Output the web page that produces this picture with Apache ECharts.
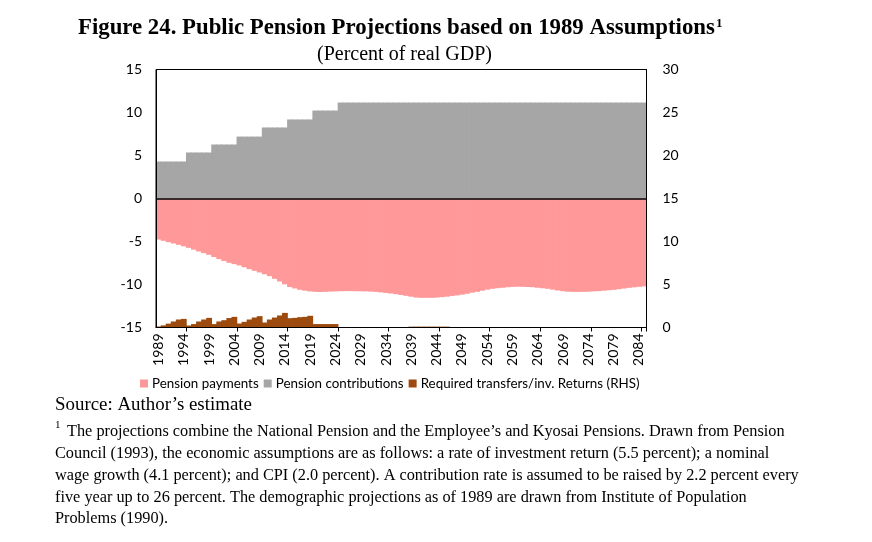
<!DOCTYPE html>
<html>
<head>
<meta charset="utf-8">
<script src="https://cdn.jsdelivr.net/npm/echarts@6/dist/echarts.min.js"></script>
<style>
  html, body { margin: 0; padding: 0; background: #fff; }
  #chart { width: 872px; height: 542px; }
</style>
</head>
<body>
<div id="chart"></div>
<script>
// years 1989 - 2085
var years = [];
for (var y = 1989; y <= 2085; y++) years.push(String(y));

// Pension payments (% of real GDP, LHS)
var payments = [
  -4.77, -4.92, -5.08, -5.23, -5.39, -5.56, -5.74, -5.95, -6.16, -6.35,
  -6.55, -6.80, -7.05, -7.27, -7.48, -7.63, -7.79, -8.00, -8.22, -8.41,
  -8.60, -8.81, -9.03, -9.34, -9.65, -9.98, -10.30, -10.46, -10.62, -10.72,
  -10.81, -10.85, -10.87, -10.85, -10.82, -10.80, -10.78, -10.77, -10.77, -10.78,
  -10.79, -10.80, -10.82, -10.86, -10.92, -10.98, -11.05, -11.12, -11.22, -11.32,
  -11.42, -11.52, -11.55, -11.55, -11.55, -11.52, -11.47, -11.42, -11.33, -11.27,
  -11.18, -11.08, -10.95, -10.85, -10.72, -10.60, -10.50, -10.43, -10.38, -10.32,
  -10.28, -10.26, -10.27, -10.29, -10.32, -10.38, -10.44, -10.50, -10.60, -10.70,
  -10.78, -10.84, -10.86, -10.86, -10.85, -10.83, -10.80, -10.77, -10.72, -10.67,
  -10.62, -10.55, -10.47, -10.39, -10.33, -10.27, -10.22
];

// Pension contributions (% of real GDP, LHS)
var contributions = [
  4.3, 4.3, 4.3, 4.3, 4.3, 4.3,
  5.35, 5.35, 5.35, 5.35, 5.35,
  6.28, 6.28, 6.28, 6.28, 6.28,
  7.2, 7.2, 7.2, 7.2, 7.2,
  8.26, 8.26, 8.26, 8.26, 8.26,
  9.19, 9.19, 9.19, 9.19, 9.19,
  10.23, 10.23, 10.23, 10.23, 10.23,
  11.16, 11.16, 11.16, 11.16, 11.16, 11.16, 11.16, 11.16, 11.16, 11.16,
  11.16, 11.16, 11.16, 11.16, 11.16, 11.16, 11.16, 11.16, 11.16, 11.16,
  11.16, 11.16, 11.16, 11.16, 11.16, 11.16, 11.16, 11.16, 11.16, 11.16,
  11.16, 11.16, 11.16, 11.16, 11.16, 11.16, 11.16, 11.16, 11.16, 11.16,
  11.16, 11.16, 11.16, 11.16, 11.16, 11.16, 11.16, 11.16, 11.16, 11.16,
  11.16, 11.16, 11.16, 11.16, 11.16, 11.16, 11.16, 11.16, 11.16, 11.16,
  11.16
];

// Required transfers / inv. returns (RHS)
var transfers = [
  0.12, 0.25, 0.45, 0.70, 0.93, 1.00,
  0.23, 0.40, 0.70, 0.93, 1.12,
  0.40, 0.70, 0.85, 1.10, 1.24,
  0.46, 0.66, 0.93, 1.16, 1.32,
  0.58, 0.93, 1.16, 1.40, 1.70,
  1.08, 1.12, 1.20, 1.24, 1.36,
  0.40, 0.40, 0.40, 0.40, 0.40,
  0, 0, 0, 0, 0, 0, 0, 0, 0, 0, 0, 0, 0, 0,
  0.1, 0.1, 0.1, 0.1, 0.1, 0.1, 0.1, 0.1,
  0, 0, 0, 0, 0, 0, 0, 0, 0, 0,
  0, 0, 0, 0, 0, 0, 0, 0, 0, 0,
  0, 0, 0, 0, 0, 0, 0, 0, 0, 0,
  0, 0, 0, 0, 0, 0, 0, 0, 0
];

var leftTicks = { min: -15, max: 15, interval: 5 };
var rightTicks = { min: 0, max: 30, interval: 5 };

var footnote = [
  'The projections combine the National Pension and the Employee\u2019s and Kyosai Pensions. Drawn from Pension',
  'Council (1993), the economic assumptions are as follows: a rate of investment return (5.5 percent); a nominal',
  'wage growth (4.1 percent); and CPI (2.0 percent). A contribution rate is assumed to be raised by 2.2 percent every',
  'five year up to 26 percent. The demographic projections as of 1989 are drawn from Institute of Population',
  'Problems (1990).'
];

var serif = '"Liberation Serif", "Times New Roman", serif';
var sans = 'Lato, "Open Sans", sans-serif';

var graphics = [
  {
    type: 'text', left: 55, top: 396,
    style: { text: 'Source: Author\u2019s estimate', font: '18.9px ' + serif, fill: '#000' }
  },
  {
    type: 'text', left: 55, top: 420,
    style: { text: '1', font: '11px ' + serif, fill: '#000' }
  }
];
footnote.forEach(function (line, i) {
  graphics.push({
    type: 'text', left: i === 0 ? 67 : 55, top: 424 + i * 21.8,
    style: { text: line, font: '16.3px ' + serif, fill: '#000' }
  });
});

var chart = echarts.init(document.getElementById('chart'));
chart.setOption({
  animation: false,
  backgroundColor: '#fff',
  title: [{
    text: '{m|Figure 24. Public Pension Projections based on 1989 Assumptions}{s|1}',
    left: 73,
    top: 12,
    textStyle: {
      rich: {
        m: { fontFamily: serif, fontWeight: 'bold', fontSize: 22.8, color: '#000', verticalAlign: 'bottom' },
        s: { fontFamily: serif, fontWeight: 'bold', fontSize: 13, color: '#000', verticalAlign: 'top', padding: [0, 0, 8, 1] }
      }
    }
  }, {
    text: '(Percent of real GDP)',
    left: 312,
    top: 40,
    textStyle: { fontFamily: serif, fontWeight: 'normal', fontSize: 20, color: '#000' }
  }],
  legend: {
    left: 135,
    top: 372,
    itemWidth: 8,
    itemHeight: 8,
    itemGap: 5,
    icon: 'rect',
    textStyle: { fontFamily: sans, fontSize: 13.4, color: '#000', padding: [0, 0, 0, -1] },
    data: ['Pension payments', 'Pension contributions', 'Required transfers/inv. Returns (RHS)']
  },
  grid: {
    left: 156, top: 69.5, right: 225.5, bottom: 214.5,
    show: true, borderColor: '#000', borderWidth: 1, backgroundColor: 'transparent'
  },
  xAxis: {
    type: 'category',
    data: years,
    z: 10,
    axisLine: { onZero: false, lineStyle: { color: '#000', width: 1 } },
    axisTick: {
      show: true, length: 4, lineStyle: { color: '#000' },
      interval: function (i) { return i % 10 === 6; }
    },
    axisLabel: {
      interval: 4, rotate: 90, margin: 6,
      fontFamily: sans, fontSize: 14, color: '#000'
    }
  },
  yAxis: [{
    type: 'value',
    min: leftTicks.min, max: leftTicks.max, interval: leftTicks.interval,
    z: 10,
    axisLine: { show: true, lineStyle: { color: '#000', width: 1 } },
    axisTick: { show: false },
    splitLine: { show: false },
    axisLabel: { margin: 14, fontFamily: sans, fontSize: 14, color: '#000' }
  }, {
    type: 'value',
    position: 'right',
    min: rightTicks.min, max: rightTicks.max, interval: rightTicks.interval,
    z: 10,
    axisLine: { show: true, lineStyle: { color: '#000', width: 1 } },
    axisTick: { show: false },
    splitLine: { show: false },
    axisLabel: { margin: 16, fontFamily: sans, fontSize: 14, color: '#000' }
  }],
  series: [{
    name: 'Pension payments',
    type: 'bar',
    yAxisIndex: 0,
    data: payments,
    barGap: '-100%',
    barWidth: 5.8,
    itemStyle: { color: '#FF9999' }
  }, {
    name: 'Pension contributions',
    type: 'bar',
    yAxisIndex: 0,
    data: contributions,
    barGap: '-100%',
    barWidth: 5.8,
    itemStyle: { color: '#A6A6A6' },
    markLine: {
      silent: true,
      symbol: 'none',
      label: { show: false },
      lineStyle: { color: '#000', width: 1.5, type: 'solid' },
      data: [{ yAxis: 0 }]
    }
  }, {
    name: 'Required transfers/inv. Returns (RHS)',
    type: 'bar',
    yAxisIndex: 1,
    data: transfers,
    barGap: '-100%',
    barWidth: 5.8,
    itemStyle: { color: '#9C4A0E' }
  }],
  graphic: graphics
});
</script>
</body>
</html>
